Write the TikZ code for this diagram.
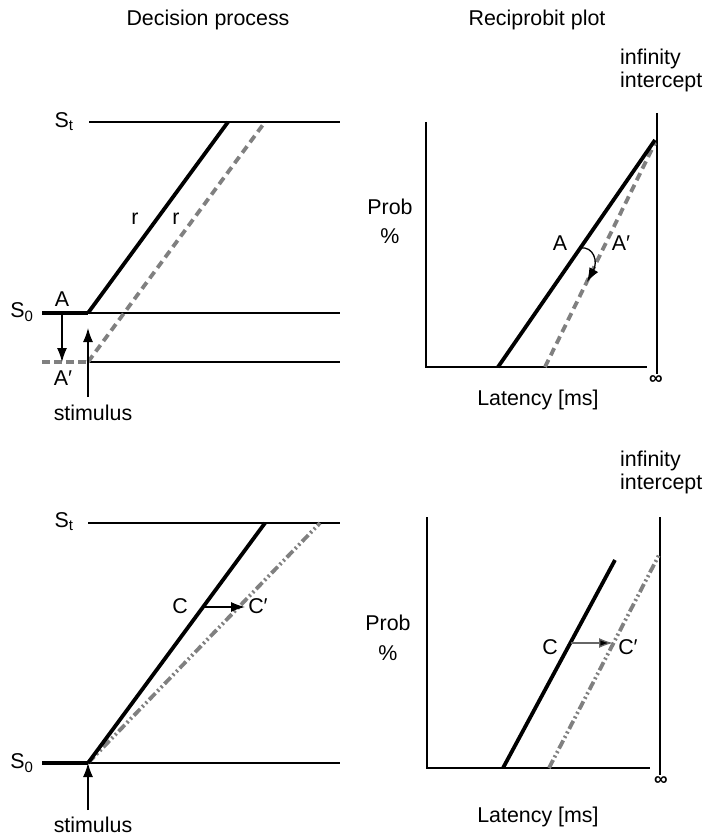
\documentclass[tikz,border=0pt]{standalone}
\usepackage{fontspec}
\setmainfont{Liberation Sans}
\usetikzlibrary{arrows.meta}
\definecolor{dgray}{RGB}{128,128,128}
\begin{document}
\begin{tikzpicture}[x=1pt,y=-1pt,
  lbl/.style={inner sep=0pt, font=\fontsize{21.4}{23}\selectfont},
  infl/.style={inner sep=0pt, anchor=north west, align=left, font=\fontsize{21.4}{23}\selectfont},
  inf/.style={inner sep=0pt, font=\fontsize{19}{19}\selectfont\bfseries},
  thinl/.style={line width=1.3pt},
  axisl/.style={line width=1.8pt},
  heavy/.style={line width=3.8pt},
  graydash/.style={draw=dgray, line width=3.8pt, dash pattern=on 8pt off 5pt},
  graydashdot/.style={draw=dgray, line width=3.8pt, dash pattern=on 9pt off 3pt on 2pt off 3pt on 2pt off 3pt},
  thinarrow/.style={thinl, -{Latex[length=14pt,width=10pt]}}
]
\useasboundingbox (0,0) rectangle (704,837);

% headers
\node[lbl] (h1) at (208,20) {Decision process};
\node[lbl] (h2) at (537,20) {Reciprobit plot};

% ===== top-left: decision process =====
\node[lbl] (St1) at (64,122) {S\textsubscript{t}};
\node[lbl] (S01) at (22,312) {S\textsubscript{0}};
\coordinate (t1a) at (89,122);
\coordinate (t1b) at (340,122);
\coordinate (s1a) at (42,313);
\coordinate (s1b) at (88,313);
\coordinate (s1c) at (340,313);
\coordinate (l1a) at (42,362);
\coordinate (l1b) at (88,362);
\coordinate (l1c) at (340,362);
\coordinate (d1top) at (228,122);
\coordinate (g1top) at (265,122);
\draw[thinl] (t1a) -- (t1b);
\draw[thinl] (s1b) -- (s1c);
\draw[thinl] (l1b) -- (l1c);
\draw[graydash, dash pattern=on 8pt off 4pt] (l1a) -- (l1b);
\draw[graydash] (l1b) -- (g1top);
\draw[heavy] (s1a) -- (s1b);
\draw[heavy, line join=round] (s1b) -- (d1top);
\node[lbl] (A1) at (62,299) {A};
\node[lbl] (A1p) at (63,378) {A′};
\coordinate (ar1a) at (62,315);
\coordinate (ar1b) at (62,362);
\draw[thinarrow] (ar1a) -- (ar1b);
\node[lbl] (r1) at (135,219) {r};
\node[lbl] (r2) at (176,219) {r};
\node[lbl] (stim1) at (93,413) {stimulus};
\coordinate (st1a) at (88,397);
\coordinate (st1b) at (88,328);
\draw[thinarrow] (st1a) -- (st1b);

% ===== top-right: reciprobit =====
\coordinate (o2) at (426,367);
\coordinate (y2) at (426,122);
\coordinate (x2) at (647,367);
\coordinate (r2t) at (657,113);
\coordinate (r2b) at (657,374);
\draw[axisl] (y2) -- (o2) -- (x2);
\draw[axisl] (r2t) -- (r2b);
\node[inf] (inf2) at (656,380) {∞};
\coordinate (b2a) at (498,367);
\coordinate (b2b) at (655,140);
\coordinate (g2a) at (545,367);
\coordinate (g2b) at (655,143);
\draw[graydash] (g2a) -- (g2b);
\draw[heavy] (b2a) -- (b2b);
\node[lbl] (A2) at (560,243) {A};
\node[lbl] (A2p) at (621,243) {A′};
\coordinate (c2a) at (580,248);
\coordinate (c2b) at (587,282);
\draw[thinarrow] (c2a) .. controls (594,246) and (598,262) .. (c2b);
\node[lbl] (P2) at (390,207) {Prob};
\node[lbl] (pc2) at (390,236) {\%};
\node[lbl] (L2) at (538,400) {Latency [ms]};
\node[infl] (ii2) at (620,49) {infinity\\intercept};

% ===== bottom-left: decision process =====
\node[lbl] (St3) at (64,522) {S\textsubscript{t}};
\node[lbl] (S03) at (22,763) {S\textsubscript{0}};
\coordinate (t3a) at (88,523);
\coordinate (t3b) at (340,523);
\coordinate (s3a) at (42,763);
\coordinate (s3b) at (88,763);
\coordinate (s3c) at (340,763);
\coordinate (d3top) at (265,523);
\coordinate (g3top) at (320,523);
\draw[thinl] (t3a) -- (t3b);
\draw[thinl] (s3b) -- (s3c);
\draw[graydashdot] (s3b) -- (g3top);
\draw[heavy] (s3a) -- (s3b);
\draw[heavy, line join=round] (s3b) -- (d3top);
\node[lbl] (C3) at (180,606) {C};
\node[lbl] (C3p) at (258,606) {C′};
\coordinate (c3a) at (204,607);
\coordinate (c3b) at (245,607);
\draw[thinarrow] (c3a) -- (c3b);
\coordinate (st3a) at (88,810);
\coordinate (st3b) at (88,763);
\draw[thinarrow] (st3a) -- (st3b);
\node[lbl] (stim3) at (93,825) {stimulus};

% ===== bottom-right: reciprobit =====
\coordinate (o4) at (427,768);
\coordinate (y4) at (427,517);
\coordinate (x4) at (650,768);
\coordinate (r4t) at (660,517);
\coordinate (r4b) at (660,775);
\draw[axisl] (y4) -- (o4) -- (x4);
\draw[axisl] (r4t) -- (r4b);
\node[inf] (inf4) at (661,781) {∞};
\coordinate (b4a) at (503,768);
\coordinate (b4b) at (615,560);
\coordinate (g4a) at (549,768);
\coordinate (g4b) at (660,553);
\draw[graydashdot] (g4a) -- (g4b);
\draw[heavy] (b4a) -- (b4b);
\node[lbl] (C4) at (550,647) {C};
\node[lbl] (C4p) at (628,647) {C′};
\coordinate (c4a) at (571,643);
\coordinate (c4b) at (613,643);
\draw[thinl, draw=dgray!80!black, -{Latex[length=14pt,width=10pt,fill=black]}] (c4a) -- (c4b);
\node[lbl] (P4) at (388,623) {Prob};
\node[lbl] (pc4) at (388,653) {\%};
\node[lbl] (L4) at (538,817) {Latency [ms]};
\node[infl] (ii4) at (620,451) {infinity\\intercept};
\end{tikzpicture}
\end{document}
